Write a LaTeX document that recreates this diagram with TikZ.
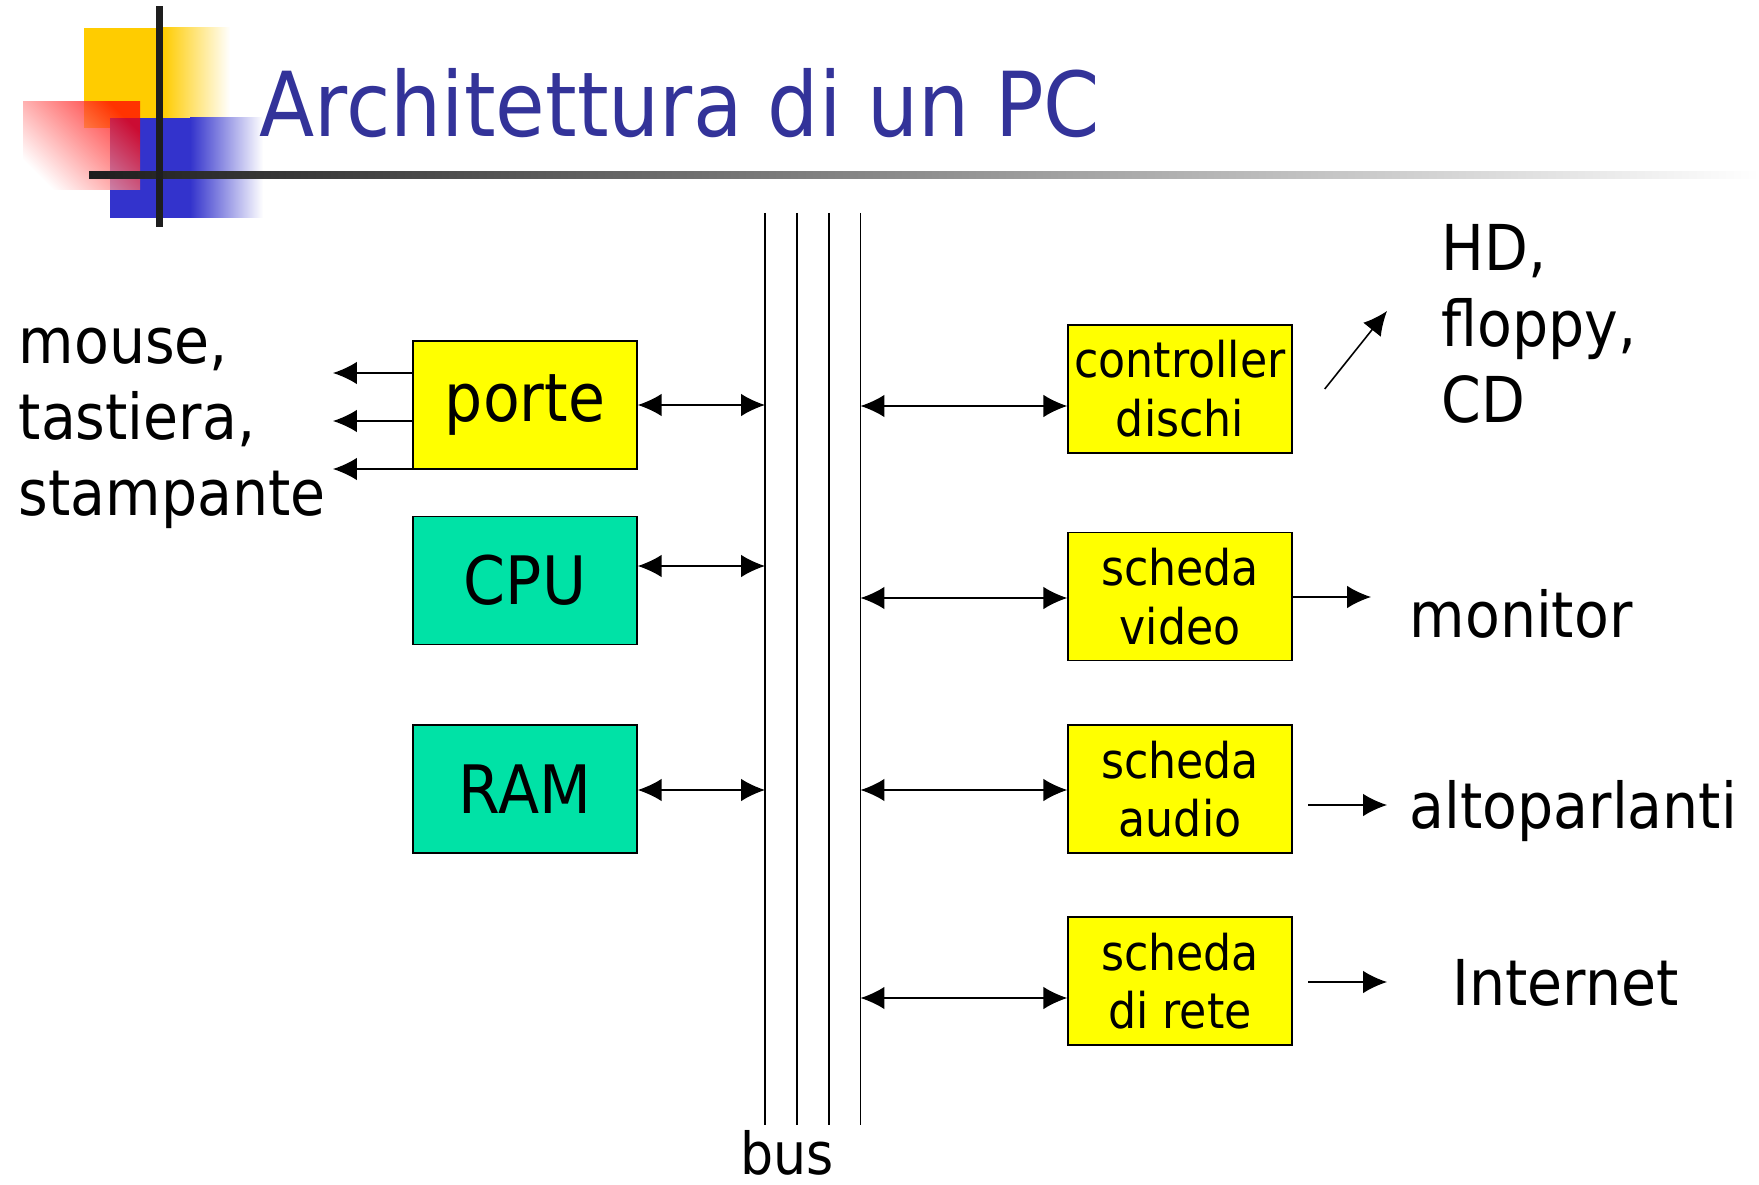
\documentclass[tikz,border=0pt]{standalone}
\usepackage{fontspec}
\setmainfont{DejaVu Sans}[FakeStretch=0.9]
\usetikzlibrary{arrows.meta}
\definecolor{titleblue}{RGB}{51,51,153}
\definecolor{boxyellow}{RGB}{255,255,0}
\definecolor{boxgreen}{RGB}{0,226,166}
\definecolor{logoyellow}{RGB}{255,204,0}
\definecolor{logoblue}{RGB}{51,51,204}
\definecolor{bardark}{RGB}{30,30,30}

\begin{document}
\begin{tikzpicture}[
  box/.style={draw, line width=0.4pt, minimum width=2.240cm, minimum height=1.280cm, inner sep=0pt, align=center},
  bigtext/.style={font=\fontsize{19}{22}\selectfont},
  smalltext/.style={font=\fontsize{14}{16.7}\selectfont},
  sidetext/.style={font=\fontsize{18}{21.5}\selectfont, align=left, inner sep=0pt},
  buslink/.style={line width=0.45pt, {Latex[length=6.8pt,width=6.4pt]}-{Latex[length=6.8pt,width=6.4pt]}},
  outlink/.style={line width=0.45pt, -{Latex[length=6.8pt,width=6.4pt]}},
]
\useasboundingbox (0,0) rectangle (17.590,-11.840);
\fill[white] (0,0) rectangle (17.590,-11.840);

% logo
\fill[logoyellow] (0.840,-0.280) rectangle (1.630,-1.280);
\shade[left color=logoyellow, right color=white] (1.630,-0.280) rectangle (2.300,-1.280);
\fill[logoblue] (1.100,-1.180) rectangle (1.900,-2.180);
\shade[left color=logoblue, right color=white] (1.900,-1.180) rectangle (2.630,-2.180);
\shade[opacity=0.75, top color=red, bottom color=white, shading angle=-45] (0.230,-1.020) rectangle (1.400,-1.900);
\shade[left color=bardark, right color=white] (0.890,-1.720) rectangle (17.590,-1.790);
\fill[bardark] (1.560,-0.060) rectangle (1.630,-2.270);

\node[anchor=base west, text=titleblue, font=\fontsize{25.5}{30}\selectfont, inner sep=0pt] (title) at (2.590,-1.370) {Architettura di un PC};

% bus
\foreach \x [count=\i] in {7.650,7.970,8.290,8.605} {
  \coordinate (bus\i t) at (\x,-2.130);
  \coordinate (bus\i b) at (\x,-11.250);
  \draw[line width=0.45pt] (bus\i t) -- (bus\i b);
}
\node[font=\fontsize{16.5}{20}\selectfont, anchor=base, inner sep=0pt] (bus) at (7.870,-11.740) {bus};

% blocks
\node[box, fill=boxyellow, bigtext] (porte) at (5.250,-4.050) {porte};
\node[box, fill=boxgreen, bigtext] (cpu) at (5.250,-5.805) {CPU};
\node[box, fill=boxgreen, bigtext] (ram) at (5.250,-7.890) {RAM};
\node[box, fill=boxyellow, smalltext] (dischi) at (11.800,-3.890) {controller\\dischi};
\node[box, fill=boxyellow, smalltext] (video) at (11.800,-5.965) {scheda\\video};
\node[box, fill=boxyellow, smalltext] (audio) at (11.800,-7.890) {scheda\\audio};
\node[box, fill=boxyellow, smalltext] (rete) at (11.800,-9.810) {scheda\\di rete};

% bus taps
\coordinate (tapporte) at (7.650,-4.050);
\coordinate (tapcpu) at (7.650,-5.660);
\coordinate (tapram) at (7.650,-7.900);
\coordinate (tapdischi) at (8.605,-4.060);
\coordinate (tapvideo) at (8.605,-5.980);
\coordinate (tapaudio) at (8.605,-7.900);
\coordinate (taprete) at (8.605,-9.980);

\draw[buslink] (porte.east |- tapporte) -- (tapporte);
\draw[buslink] (cpu.east |- tapcpu) -- (tapcpu);
\draw[buslink] (ram.east |- tapram) -- (tapram);
\draw[buslink] (tapdischi) -- (tapdischi -| dischi.west);
\draw[buslink] (tapvideo) -- (tapvideo -| video.west);
\draw[buslink] (tapaudio) -- (tapaudio -| audio.west);
\draw[buslink] (taprete) -- (taprete -| rete.west);

% peripherals
\foreach \y [count=\i] in {3.730,4.210,4.690} {
  \coordinate (dev\i) at (3.330,-\y);
  \draw[outlink] (porte.west |- dev\i) -- (dev\i);
}
\coordinate (hdtip) at (13.870,-3.110);
\draw[outlink] ([xshift=0.320cm]dischi.east) -- (hdtip);
\coordinate (montip) at (13.710,-5.970);
\draw[outlink] (video.east |- montip) -- (montip);
\coordinate (audiofrom) at (13.080,-8.050);
\coordinate (audioto) at (13.870,-8.050);
\draw[outlink] (audiofrom) -- (audioto);
\coordinate (retefrom) at (13.080,-9.820);
\coordinate (reteto) at (13.870,-9.820);
\draw[outlink] (retefrom) -- (reteto);

\node[sidetext, anchor=base west] (devices) at (0.180,-5.150) {mouse,\\tastiera,\\stampante};
\node[sidetext, anchor=base west] (storage) at (14.410,-4.220) {HD,\\floppy,\\CD};
\node[sidetext, anchor=base west] (monitor) at (14.090,-6.370) {monitor};
\node[sidetext, anchor=base west] (speakers) at (14.090,-8.280) {altoparlanti};
\node[sidetext, anchor=base west] (internet) at (14.520,-10.050) {Internet};
\end{tikzpicture}
\end{document}
